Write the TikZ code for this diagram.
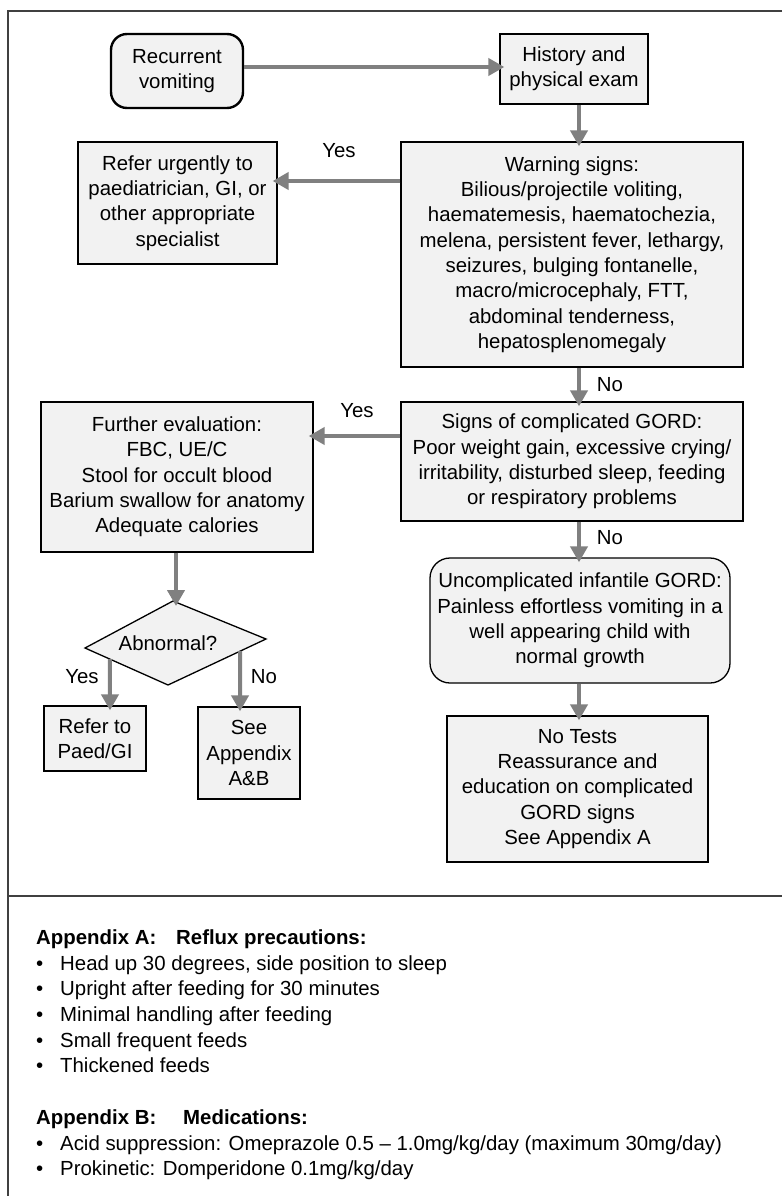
\documentclass[tikz,border=0pt]{standalone}
\usepackage{fontspec}
\setmainfont{Liberation Sans}
\usetikzlibrary{arrows.meta,calc}
\definecolor{boxfill}{HTML}{F2F2F2}
\definecolor{flowgray}{HTML}{808080}
\definecolor{framegray}{HTML}{404040}
\begin{document}
\begin{tikzpicture}[x=1pt,y=-1pt,
  txt/.style={font=\fontsize{20.4}{25.3}\selectfont, inner sep=0pt},
  box/.style={txt, draw=black, line width=1.3pt, fill=boxfill, align=center},
  rbox/.style={box, rounded corners=16pt},
  arr/.style={draw=flowgray, line width=4pt,
    -{Triangle[length=16pt,width=17pt]}, shorten >=-5pt},
  lbl/.style={txt},
  item/.style={txt, anchor=base west},
  head/.style={item, font=\fontsize{20.4}{25.3}\selectfont\bfseries}
]
\useasboundingbox (0,0) rectangle (782,1196);
\fill[white] (0,0) rectangle (782,1196);

% outer frame and separator
\draw[framegray, line width=2pt] (782,11) -- (8,11) -- (8,1196);
\draw[framegray, line width=2pt] (8,896) -- (782,896);

% flow nodes
\node[rbox, line width=2.4pt, minimum width=132pt, minimum height=74pt] (rec) at (177,71) {Recurrent\\vomiting};
\node[box, minimum width=148pt, minimum height=70pt] (hist) at (574,69) {History and\\physical exam};
\node[box, minimum width=342pt, minimum height=225pt] (warn) at (572,254.5)
  {Warning signs:\\Bilious/projectile voliting,\\haematemesis, haematochezia,\\melena, persistent fever, lethargy,\\seizures, bulging fontanelle,\\macro/microcephaly, FTT,\\abdominal tenderness,\\hepatosplenomegaly};
\node[box, minimum width=199pt, minimum height=122pt] (refer) at (177.5,203)
  {Refer urgently to\\paediatrician, GI, or\\other appropriate\\specialist};
\node[box, minimum width=342pt, minimum height=119pt] (signs) at (572,461.5)
  {Signs of complicated GORD:\\Poor weight gain, excessive crying/\\irritability, disturbed sleep, feeding\\or respiratory problems};
\node[box, minimum width=272pt, minimum height=150pt] (further) at (177,477)
  {Further evaluation:\\FBC, UE/C\\Stool for occult blood\\Barium swallow for anatomy\\Adequate calories};
\node[rbox, rounded corners=20pt, minimum width=300pt, minimum height=125pt] (uncomp) at (580,620.5)
  {Uncomplicated infantile GORD:\\Painless effortless vomiting in a\\well appearing child with\\normal growth};
\node[box, minimum width=102pt, minimum height=65pt] (refpaed) at (95,738.5) {Refer to\\Paed/GI};
\node[box, minimum width=102pt, minimum height=92pt] (seeapp) at (249,753) {See\\Appendix\\A\&B};
\node[box, minimum width=261pt, minimum height=146pt] (notests) at (577.5,789)
  {No Tests\\Reassurance and\\education on complicated\\GORD signs\\See Appendix A};

% decision diamond
\coordinate (dT) at (173,601);
\coordinate (dR) at (266,639);
\coordinate (dB) at (168,685);
\coordinate (dL) at (85,648);
\draw[black, line width=1.3pt, fill=boxfill] (dT) -- (dR) -- (dB) -- (dL) -- cycle;
\node[txt] (abn) at (168,643) {Abnormal?};

% guide columns for the connectors
\coordinate (colR) at (579,0);
\coordinate (colL) at (176,0);
\coordinate (yesx) at (110,0);
\coordinate (nox) at (240,0);

% connectors
\draw[arr] (rec.east |- 0,67) -- (hist.west |- 0,67);
\draw[arr] (hist.south -| colR) -- (warn.north -| colR);
\draw[arr] (warn.west |- 0,181) -- (refer.east |- 0,181);
\draw[arr] (warn.south -| colR) -- (signs.north -| colR);
\draw[arr] (signs.west |- 0,436) -- (further.east |- 0,436);
\draw[arr] (signs.south -| colR) -- (uncomp.north -| colR);
\draw[arr] (further.south -| colL) -- (dT -| colL);
\draw[arr] ($(dL)!0.30!(dB)$) -- (refpaed.north -| yesx);
\draw[arr] ($(dR)!0.265!(dB)$) -- (seeapp.north -| nox);
\draw[arr] (uncomp.south -| colR) -- (notests.north -| colR);

% connector labels
\node[lbl] (l1) at (339,151) {Yes};
\node[lbl] (l2) at (610,385) {No};
\node[lbl] (l3) at (357,411) {Yes};
\node[lbl] (l4) at (610,538) {No};
\node[lbl] (l5) at (82,677) {Yes};
\node[lbl] (l6) at (264,677) {No};

% appendix notes (placed on baselines)
\node[head] (tA1) at (36,944) {Appendix A:};
\node[head] (tA2) at (176,944) {Reflux precautions:};
\node[item] (a1) at (36,970) {\makebox[24pt][l]{•}Head up 30 degrees, side position to sleep};
\node[item] (a2) at (36,995.5) {\makebox[24pt][l]{•}Upright after feeding for 30 minutes};
\node[item] (a3) at (36,1021) {\makebox[24pt][l]{•}Minimal handling after feeding};
\node[item] (a4) at (36,1047) {\makebox[24pt][l]{•}Small frequent feeds};
\node[item] (a5) at (36,1072) {\makebox[24pt][l]{•}Thickened feeds};

\node[head] (tB1) at (36,1124) {Appendix B:};
\node[head] (tB2) at (183,1124) {Medications:};
\node[item] (b1) at (36,1150) {\makebox[24pt][l]{•}Acid suppression: Omeprazole 0.5 – 1.0mg/kg/day (maximum 30mg/day)};
\node[item] (b2) at (36,1175) {\makebox[24pt][l]{•}Prokinetic: Domperidone 0.1mg/kg/day};
\end{tikzpicture}
\end{document}
